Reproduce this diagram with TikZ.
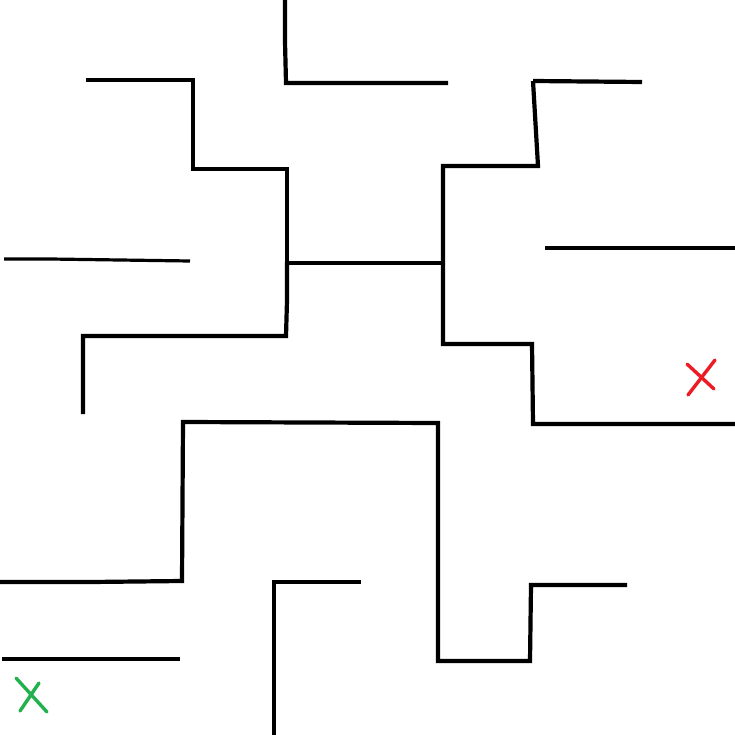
\documentclass[tikz,border=0pt]{standalone}
\definecolor{paintred}{RGB}{237,28,36}
\definecolor{paintgreen}{RGB}{34,177,76}
\begin{document}
\begin{tikzpicture}[x=1pt,y=-1pt,
  wall/.style={line width=4.2pt,line join=miter,line cap=butt,black},
  thinwall/.style={line width=3.2pt,line join=miter,line cap=butt,black},
  markred/.style={line width=3.4pt,line cap=round,paintred},
  markgreen/.style={line width=3.4pt,line cap=round,paintgreen}]
\useasboundingbox (0,0) rectangle (735,735);
% top middle
\draw[wall] (285,0) -- (285,42) -- (286,83) -- (448,83);
% upper left staircase
\draw[wall] (86,80) -- (193,80) -- (193,169) -- (287,169) -- (287,262);
\draw[wall] (287,262) -- (287,300) -- (286,336) -- (83,336) -- (83,414);
\draw[thinwall] (287,263) -- (443,263);
% upper right
\draw[wall] (533,81) -- (642,82);
\draw[wall] (533,81) -- (538,166) -- (443,166) -- (443,344) -- (532,344) -- (533,424) -- (735,424);
\draw[wall] (545,248) -- (735,248);
% left short line
\draw[thinwall] (4,259) -- (50,259) -- (190,261);
% big bottom path
\draw[wall] (0,582) -- (91,582) -- (182,581) -- (183,422) -- (438,423) -- (438,661) -- (530,661) -- (531,585) -- (627,585);
% bottom middle
\draw[thinwall] (361,582) -- (274,582) -- (274,735);
% bottom left
\draw[wall] (2,659) -- (180,659);
% marks
\draw[markred] (687,364) -- (714,389);
\draw[markred] (688,395) -- (715,360);
\draw[markgreen] (16,678) -- (47,712);
\draw[markgreen] (20,711) -- (39,683);
\end{tikzpicture}
\end{document}
